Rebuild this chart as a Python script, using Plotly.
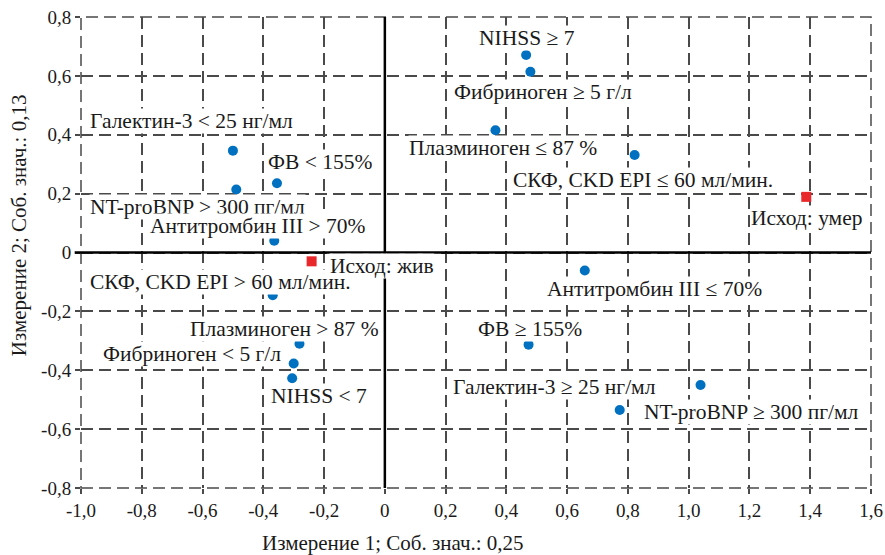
import plotly.graph_objects as go

# Category points (blue)
cat_labels = [
    "Галектин-3 < 25 нг/мл", "ФВ < 155%", "NT-proBNP > 300 пг/мл", "Антитромбин III > 70%",
    "NIHSS ≥ 7", "Фибриноген ≥ 5 г/л", "Плазминоген ≤ 87 %", "СКФ, CKD EPI ≤ 60 мл/мин.",
    "Антитромбин III ≤ 70%", "СКФ, CKD EPI > 60 мл/мин.", "Плазминоген > 87 %",
    "Фибриноген < 5 г/л", "NIHSS < 7", "ФВ ≥ 155%", "Галектин-3 ≥ 25 нг/мл",
    "NT-proBNP ≥ 300 пг/мл",
]
cat_x = [-0.50, -0.355, -0.489, -0.364, 0.465, 0.479, 0.364, 0.822,
         0.658, -0.369, -0.281, -0.300, -0.305, 0.473, 1.039, 0.773]
cat_y = [0.346, 0.235, 0.214, 0.040, 0.671, 0.614, 0.415, 0.331,
         -0.061, -0.145, -0.310, -0.377, -0.427, -0.313, -0.450, -0.535]

# Outcome points (red)
out_labels = ["Исход: жив", "Исход: умер"]
out_x = [-0.241, 1.387]
out_y = [-0.030, 0.189]

x_ticks = [-1.0, -0.8, -0.6, -0.4, -0.2, 0.0, 0.2, 0.4, 0.6, 0.8, 1.0, 1.2, 1.4, 1.6]
x_ticktext = ["-1,0", "-0,8", "-0,6", "-0,4", "-0,2", "0", "0,2", "0,4", "0,6", "0,8",
              "1,0", "1,2", "1,4", "1,6"]
y_ticks = [-0.8, -0.6, -0.4, -0.2, 0.0, 0.2, 0.4, 0.6, 0.8]
y_ticktext = ["-0,8", "-0,6", "-0,4", "-0,2", "0", "0,2", "0,4", "0,6", "0,8"]

x_title = "Измерение 1; Соб. знач.: 0,25"
y_title = "Измерение 2; Соб. знач.: 0,13"

# label pixel offsets (dx, dy; dy positive = up)
cat_offsets = [(-41, 30), (43, 21), (-39, -17), (-17, 15),
               (1, 17), (13, -20), (8, -18), (8, -25),
               (70, -19), (-52, 13), (-15, 15), (-102, 9), (27, -18),
               (1, 16), (-146, -2), (132, -2)]
out_offsets = [(70, -5), (1, -21)]

FONT = "Liberation Serif, DejaVu Serif, Noto Serif, Times New Roman, serif"
GRID = "#4a4a4a"
TXT = "#1a1a1a"
DASH = "12px,6px"

fig = go.Figure()
fig.add_trace(go.Scatter(x=cat_x, y=cat_y, mode="markers",
                         marker=dict(symbol="circle", size=10, color="#0070C0"),
                         hoverinfo="text", text=cat_labels))
fig.add_trace(go.Scatter(x=out_x, y=out_y, mode="markers",
                         marker=dict(symbol="square", size=10, color="#E8282B"),
                         hoverinfo="text", text=out_labels))

for lab, x, y, (dx, dy) in zip(cat_labels + out_labels, cat_x + out_x, cat_y + out_y,
                               cat_offsets + out_offsets):
    fig.add_annotation(x=x, y=y, text=lab, showarrow=False, xshift=dx, yshift=dy,
                       xanchor="center", yanchor="middle",
                       font=dict(family=FONT, size=21.5, color=TXT),
                       bgcolor="white", borderpad=0)

# zero lines (solid black)
fig.add_shape(type="line", xref="x", yref="paper", x0=0, x1=0, y0=0, y1=1,
              line=dict(color="black", width=2.5), layer="above")
fig.add_shape(type="line", xref="paper", yref="y", x0=-0.008, x1=1, y0=0, y1=0,
              line=dict(color="black", width=2.5), layer="above")

axis_common = dict(showgrid=True, gridcolor=GRID, griddash=DASH, gridwidth=1.5,
                   zeroline=False, showline=False, ticks="outside", ticklen=5,
                   tickcolor=GRID, tickwidth=1.5, automargin=False,
                   tickfont=dict(family=FONT, size=19, color=TXT))

fig.update_xaxes(range=[-1.0, 1.6], tickvals=x_ticks, ticktext=x_ticktext, **axis_common)
fig.update_yaxes(range=[-0.8, 0.8], tickvals=y_ticks, ticktext=y_ticktext, **axis_common)

# dashed border on all four sides
fig.add_shape(type="rect", xref="paper", yref="paper", x0=0, x1=1, y0=0, y1=1,
              line=dict(color=GRID, width=1.5, dash=DASH), layer="below")

fig.add_annotation(x=0.026, y=0, xref="x", yref="paper", yshift=-55, text=x_title,
                   xanchor="center", yanchor="middle",
                   showarrow=False, font=dict(family=FONT, size=21, color=TXT))
fig.add_annotation(x=0, y=0.558, xref="paper", yref="paper", xshift=-62, text=y_title,
                   xanchor="center", yanchor="middle",
                   textangle=-90, showarrow=False,
                   font=dict(family=FONT, size=21, color=TXT))

fig.update_layout(template="none", width=885, height=555,
                  margin=dict(l=81, r=14, t=17, b=67),
                  plot_bgcolor="white", paper_bgcolor="white", showlegend=False)

fig.write_html("out.html")
